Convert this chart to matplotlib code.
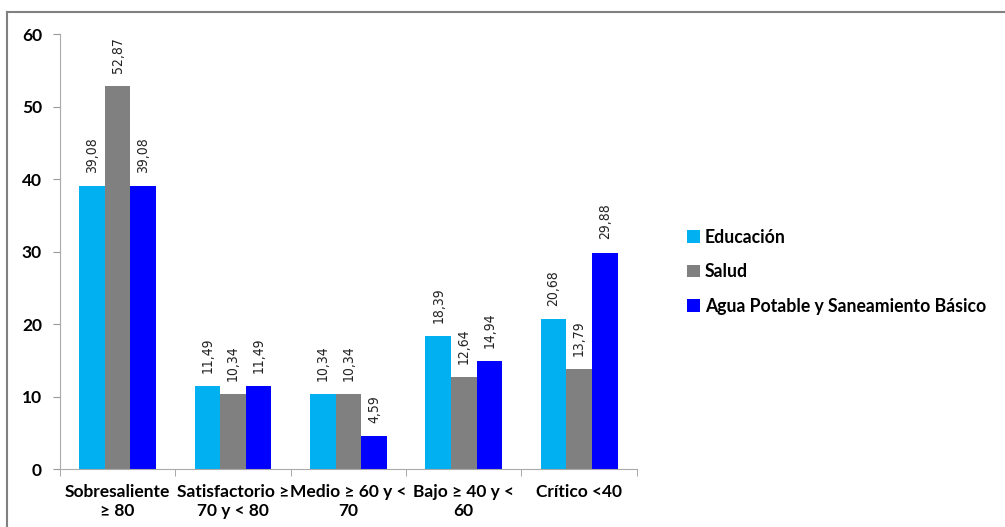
import numpy as np
import matplotlib.pyplot as plt
from matplotlib.lines import Line2D

categories = ['Sobresaliente\n≥ 80', 'Satisfactorio ≥\n70 y < 80', 'Medio ≥ 60 y <\n70',
              'Bajo ≥ 40 y <\n60', 'Crítico <40']
series_names = ['Educación', 'Salud', 'Agua Potable y Saneamiento Básico']
educacion = [39.08, 11.49, 10.34, 18.39, 20.68]
salud = [52.87, 10.34, 10.34, 12.64, 13.79]
agua = [39.08, 11.49, 4.59, 14.94, 29.88]
colors = ['#00B0F0', '#808080', '#0000FF']

plt.rcParams['font.family'] = ['Lato', 'DejaVu Sans']

fig = plt.figure(figsize=(10.05, 5.27), dpi=100)
ax = fig.add_axes([0.0597, 0.110, 0.574, 0.825])

# outer frame (top and left edges only visible)
fig.add_artist(Line2D([7/1005, 7/1005], [0, 1 - 12/527], transform=fig.transFigure, color='#808080', lw=1.5))
fig.add_artist(Line2D([7/1005, 1], [1 - 12/527, 1 - 12/527], transform=fig.transFigure, color='#808080', lw=1.5))

x = np.arange(len(categories))
w = 0.222
for i, (vals, name) in enumerate(zip([educacion, salud, agua], series_names)):
    pos = x + (i - 1) * w
    ax.bar(pos, vals, w, color=colors[i], label=name)
    for p, v in zip(pos, vals):
        ax.text(p, v + 1.8, ('%.2f' % v).replace('.', ','), rotation=90, ha='center', va='bottom',
                fontsize=10, family='DejaVu Sans', fontstretch='condensed', color='#222222')

ax.set_xlim(-0.5, len(categories) - 0.5)
ax.set_ylim(0, 60)
ax.set_yticks(range(0, 61, 10))
ax.set_xticks(x)
ax.set_xticklabels(categories, fontsize=12.5, fontweight='bold')
ax.set_xticks(np.arange(-0.5, len(categories), 1), minor=True)
ax.tick_params(axis='x', which='major', length=0, pad=11)
ax.tick_params(axis='x', which='minor', length=5, color='#999999')
ax.tick_params(axis='y', length=5, color='#999999', labelsize=12.5, pad=8)
for lab in ax.get_yticklabels():
    lab.set_fontweight('bold')
for s in ['top', 'right']:
    ax.spines[s].set_visible(False)
for s in ['left', 'bottom']:
    ax.spines[s].set_color('#aaaaaa')

ax.legend(loc='center left', bbox_to_anchor=(1.06, 0.454), frameon=False, handlelength=0.7,
          handleheight=0.7, handletextpad=0.3, labelspacing=1.0,
          prop={'size': 12.7, 'weight': 'bold'})

fig.savefig('out.png', dpi=100)
